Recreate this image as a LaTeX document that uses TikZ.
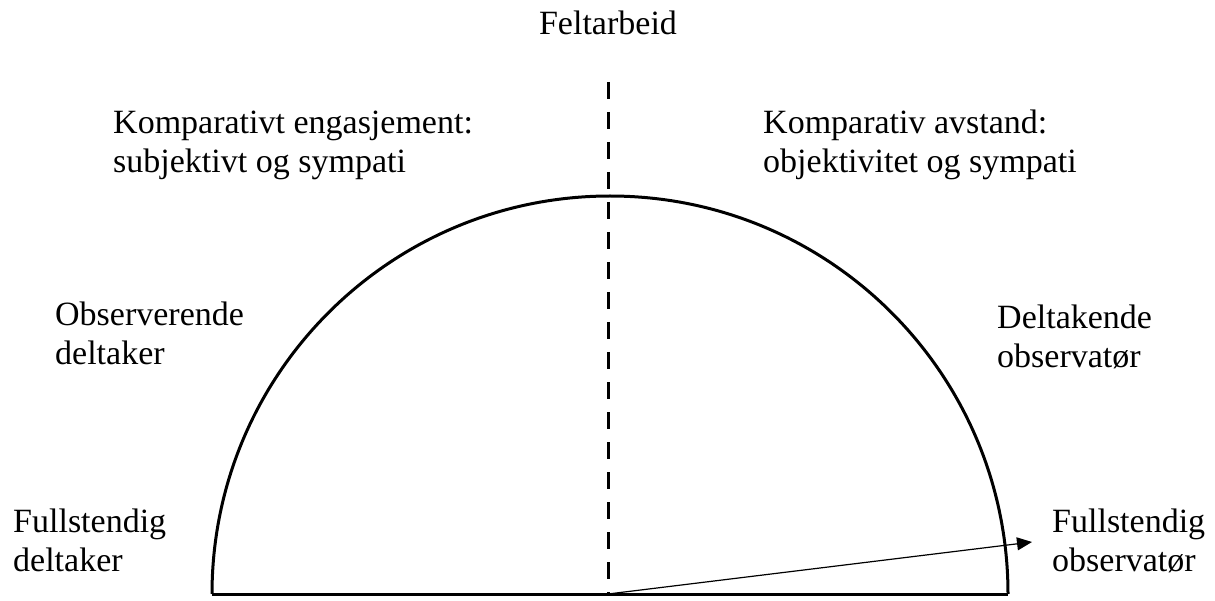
\documentclass[tikz,border=0pt]{standalone}
\usepackage{fontspec}
\setmainfont{Liberation Serif}
\usetikzlibrary{arrows.meta}
\tikzset{
  lbl/.style={anchor=base west, inner sep=0pt, align=left, font=\fontsize{34}{39}\selectfont},
  ttl/.style={anchor=base, inner sep=0pt, font=\fontsize{34}{39}\selectfont},
  thick line/.style={line width=3pt},
  divider/.style={line width=3pt, dash pattern=on 17pt off 13pt},
  pointer/.style={line width=1.2pt, -{Triangle[length=15pt,width=13pt]}}
}
\begin{document}
\begin{tikzpicture}[x=1pt,y=-1pt]
\useasboundingbox (0,0) rectangle (1215,601);
% semicircle
\coordinate (c) at (610,594);
\coordinate (top) at (608,82);
\coordinate (bot) at (608,594);
\coordinate (tip) at (1032,542);
\draw[thick line] (212,594) arc[start angle=180, end angle=360, radius=398];
\draw[thick line] (212,594) -- (1008,594);
\draw[divider] (top) -- (bot);
\draw[pointer] (bot) -- (tip);
% labels
\node[ttl] (felt) at (608,35) {Feltarbeid};
\node[lbl] (ke) at (113,173) {Komparativt engasjement:\\subjektivt og sympati};
\node[lbl] (ka) at (763,173) {Komparativ avstand:\\objektivitet og sympati};
\node[lbl] (od) at (55,364) {Observerende\\deltaker};
\node[lbl] (do) at (997,367) {Deltakende\\observatør};
\node[lbl] (fd) at (13,571) {Fullstendig\\deltaker};
\node[lbl] (fo) at (1052,571) {Fullstendig\\observatør};
\end{tikzpicture}
\end{document}
